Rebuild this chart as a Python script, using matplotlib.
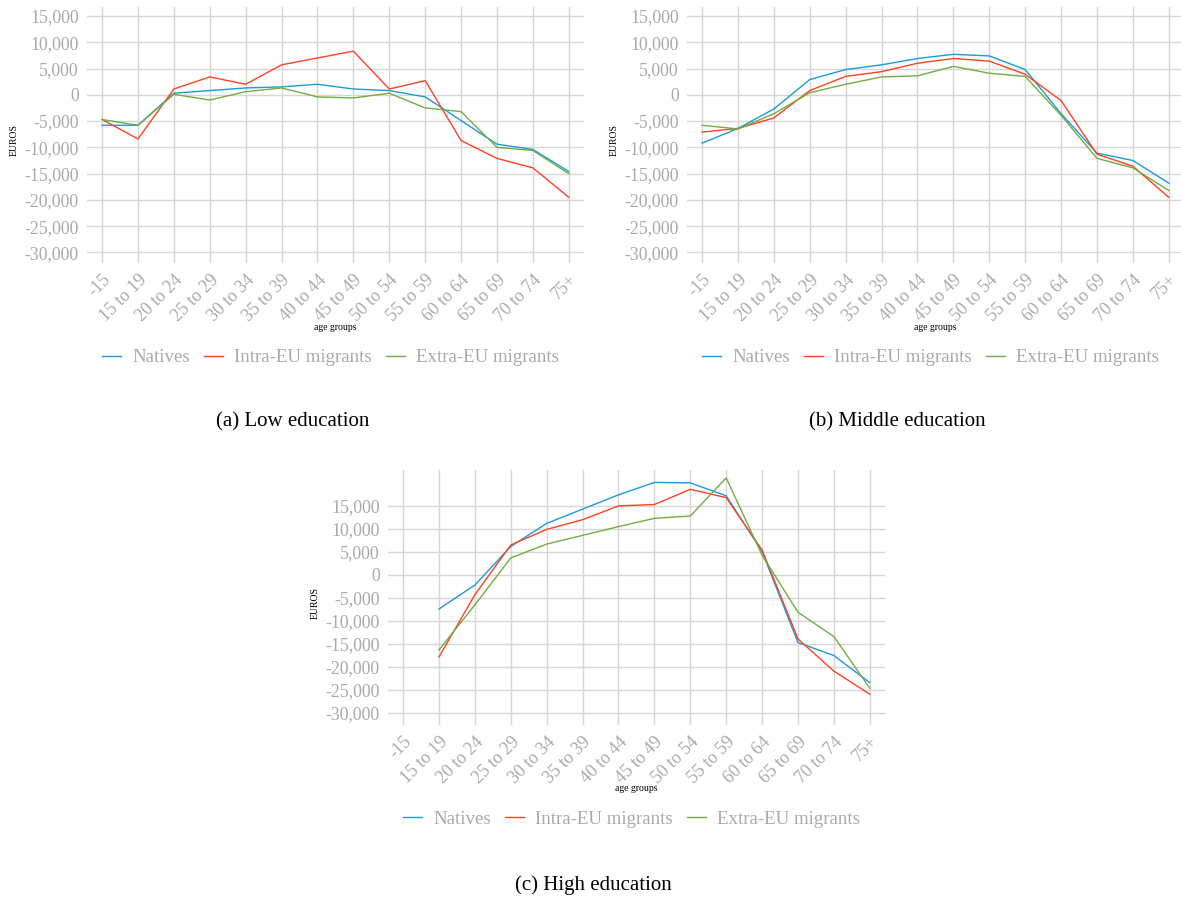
import numpy as np
import matplotlib
matplotlib.use("Agg")
import matplotlib.pyplot as plt
from matplotlib.ticker import FuncFormatter

plt.rcParams['font.family'] = ['Liberation Serif', 'DejaVu Serif']

ages = ['-15', '15 to 19', '20 to 24', '25 to 29', '30 to 34', '35 to 39', '40 to 44',
        '45 to 49', '50 to 54', '55 to 59', '60 to 64', '65 to 69', '70 to 74', '75+']
series = ['Natives', 'Intra-EU migrants', 'Extra-EU migrants']

# (a) low education
low_nat = [-5800, -5800, 300, 800, 1300, 1500, 2000, 1100, 800, -400, -4900, -9400, -10400, -14600]
low_intra = [-4700, -8400, 1100, 3400, 2000, 5700, 7000, 8300, 1100, 2700, -8700, -12100, -13900, -19500]
low_extra = [-4700, -5800, 100, -1000, 600, 1300, -400, -600, 300, -2500, -3200, -10000, -10600, -15000]

# (b) middle education
mid_nat = [-9200, -6400, -2700, 2900, 4800, 5700, 6900, 7700, 7400, 4800, -3600, -11100, -12500, -16800]
mid_intra = [-7100, -6400, -4400, 800, 3500, 4400, 6000, 6900, 6400, 3900, -1100, -11300, -13600, -19500]
mid_extra = [-5800, -6500, -3600, 400, 2000, 3400, 3600, 5400, 4100, 3500, -3900, -12100, -13900, -18200]

# (c) high education (no value for -15)
high_nat = [np.nan, -7400, -2200, 6200, 11200, 14300, 17400, 20100, 20000, 17200, 5100, -14700, -17500, -23400]
high_intra = [np.nan, -17800, -4300, 6500, 9900, 12000, 15000, 15300, 18600, 16800, 5400, -13900, -20900, -25900]
high_extra = [np.nan, -16300, -6500, 3700, 6700, 8600, 10500, 12300, 12800, 21100, 4300, -8100, -13400, -24600]

colors = ['#1b9bd7', '#ff4122', '#72ac43']
grey = '#a9a9a9'
yticks = np.arange(-30000, 15001, 5000)

W, H = 1181, 900
fig = plt.figure(figsize=(W / 100, H / 100), dpi=100)

step = 35.9
xl = (-0.42, 13.42)
axw = (xl[1] - xl[0]) * step / W


def panel(left_px, top_px, bot_px, ylim, data):
    ax = fig.add_axes([left_px / W, 1 - bot_px / H, axw, (bot_px - top_px) / H])
    x = np.arange(len(ages))
    for vals, name, c in zip(data, series, colors):
        ax.plot(x, vals, color=c, lw=1.0, label=name, zorder=3)
    ax.set_xlim(*xl)
    ax.set_ylim(*ylim)
    ax.set_xticks(x)
    ax.set_xticklabels(ages, rotation=45, ha='right', va='top', rotation_mode='anchor')
    ax.set_yticks(yticks)
    ax.yaxis.set_major_formatter(FuncFormatter(lambda v, p: f"{int(v):,}"))
    ax.tick_params(length=0, labelsize=12.8, labelcolor=grey, pad=6)
    ax.grid(True, color='#d6d6d6', lw=1.0)
    ax.set_axisbelow(True)
    for s in ax.spines.values():
        s.set_visible(False)
    ax.text(6.5, -0.25, 'age groups', transform=ax.get_xaxis_transform(),
            ha='center', va='center', fontsize=7)
    ax.text(-0.147, 0.48, 'EUROS', transform=ax.transAxes, rotation=90,
            ha='center', va='center', fontsize=7)
    ax.legend(loc='center', bbox_to_anchor=(0.49, -0.37), ncol=3, frameon=False,
              fontsize=13.6, labelcolor=grey, handlelength=1.0, handletextpad=0.6,
              columnspacing=0.75)
    return ax


panel(87, 7, 263, (-32000, 16700), [low_nat, low_intra, low_extra])
panel(687, 7, 263, (-32000, 16700), [mid_nat, mid_intra, mid_extra])
panel(388, 470, 725, (-32600, 22800), [high_nat, high_intra, high_extra])

fig.text(293 / W, 1 - 422 / H, '(a) Low education', ha='center', va='center', fontsize=15)
fig.text(897 / W, 1 - 422 / H, '(b) Middle education', ha='center', va='center', fontsize=15)
fig.text(593 / W, 1 - 885 / H, '(c) High education', ha='center', va='center', fontsize=15)

fig.savefig('out.png', dpi=100)
